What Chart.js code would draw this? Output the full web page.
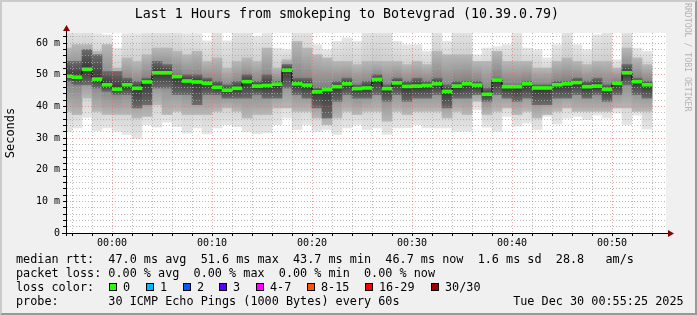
<!DOCTYPE html>
<html><head><meta charset="utf-8">
<script src="https://cdn.jsdelivr.net/npm/chart.js@4/dist/chart.umd.min.js"></script>
<style>
html,body{margin:0;padding:0;background:#f0f0f0;}
#wrap{position:relative;width:697px;height:315px;overflow:hidden;background:#f0f0f0;}
#frame{position:absolute;left:0;top:0;width:697px;height:315px;box-sizing:border-box;border-style:solid;border-width:2px;border-color:#cbcbcb #999 #999 #cbcbcb;pointer-events:none;}
canvas{position:absolute;left:0;top:0;}
.t{position:absolute;font-family:"DejaVu Sans Mono",monospace;white-space:pre;color:#000;font-size:11.8px;line-height:14px;}
.sw{position:absolute;width:8px;height:8px;box-sizing:border-box;border:1px solid #000;}
#title{position:absolute;left:0;top:6px;width:694px;text-align:center;font-family:"DejaVu Sans Mono",monospace;font-size:13.3px;line-height:16px;white-space:pre;}
#wm{position:absolute;left:683px;top:3px;writing-mode:vertical-rl;font-family:"DejaVu Sans Mono",monospace;font-size:8.2px;color:#b4b4b4;white-space:pre;line-height:10px;}
</style></head>
<body>
<div id="wrap">
<canvas id="c" width="697" height="315"></canvas>
<div id="title">Last 1 Hours from smokeping to Botevgrad (10.39.0.79)</div>
<div id="wm">RRDTOOL / TOBI OETIKER</div>
<div class="t" style="left:16px;top:252px">median rtt:  47.0 ms avg  51.6 ms max  43.7 ms min  46.7 ms now  1.6 ms sd  28.8   am/s</div>
<div class="t" style="left:16px;top:266px">packet loss: 0.00 % avg  0.00 % max  0.00 % min  0.00 % now</div>
<div class="t" style="left:16px;top:280px">loss color:</div>
<div id="lossrow"></div>
<div class="t" style="left:16px;top:294px">probe:       30 ICMP Echo Pings (1000 Bytes) every 60s                Tue Dec 30 00:55:25 2025</div>
<div id="frame"></div>
</div>
<script>
// ---- data ----
const times = ['23:55','23:56','23:57','23:58','23:59','00:00','00:01','00:02','00:03','00:04',
  '00:05','00:06','00:07','00:08','00:09','00:10','00:11','00:12','00:13','00:14',
  '00:15','00:16','00:17','00:18','00:19','00:20','00:21','00:22','00:23','00:24',
  '00:25','00:26','00:27','00:28','00:29','00:30','00:31','00:32','00:33','00:34',
  '00:35','00:36','00:37','00:38','00:39','00:40','00:41','00:42','00:43','00:44',
  '00:45','00:46','00:47','00:48','00:49','00:50','00:51','00:52','00:53'];
const median = [49.5,49.2,51.7,48.6,46.8,45.4,46.8,45.7,47.7,50.6,50.6,49.4,48.0,47.7,47.3,46.0,45.1,45.7,47.8,46.4,
  46.6,47.0,51.4,47.1,46.7,44.6,45.3,46.2,47.1,45.6,45.8,48.5,45.6,47.4,46.3,46.4,46.6,47.1,44.7,46.4,
  47.1,46.7,43.8,48.3,46.2,46.2,47.1,45.8,45.8,46.8,47.1,47.5,46.2,46.4,45.4,47.3,50.6,47.8,46.8];
const smokeMax = [65,65,65,63.0,62.6,58.4,63.0,63.0,65,65,65,65,63.0,63.0,60.7,65,60.7,65,65,62.2,
  63.5,58.4,57.9,65,65,59.5,57.9,60.5,61.6,60.5,65,65,65,60.5,59.5,59.5,57.4,65,60.5,65,
  65,56.3,58.4,58.9,59.5,63.5,58.4,57.9,55.3,59.5,65,59.5,57.9,62.6,65,54.7,65,58.4,57.4];
const smokeHi = [58.4,59.5,59.5,57.4,59.5,52.1,55.3,54.2,56.3,58.4,58.4,57.4,56.3,57.4,54.2,55.3,52.1,54.2,55.3,54.2,
  58.4,52.1,54.7,60.5,58.4,56.3,55.3,54.2,54.2,53.2,54.2,54.2,54.2,54.2,53.2,54.2,53.2,57.4,56.3,56.3,
  56.3,54.2,54.2,57.4,54.2,54.2,54.2,52.1,52.1,54.2,55.3,54.2,53.2,54.2,54.2,52.1,58.4,55.3,53.2];
const coreHi = [54.2,54.2,57.9,56.3,51.0,51.0,48.9,47.9,48.9,54.2,53.2,50.0,50.0,50.0,48.9,47.9,46.8,47.9,50.0,47.9,
  50.0,47.9,53.2,48.9,48.9,45.8,45.8,47.9,48.9,46.8,47.9,50.0,46.8,48.9,47.9,48.9,47.9,48.9,46.8,47.9,
  47.9,47.9,45.8,48.9,46.8,46.8,47.9,46.8,46.8,47.9,47.9,48.9,47.9,48.9,46.8,47.9,53.2,48.9,47.9];
const coreLo = [47.9,46.8,46.8,45.8,44.7,43.7,43.7,39.5,40.5,45.8,45.8,43.7,43.7,40.5,43.7,43.7,42.6,42.6,42.6,43.7,
  42.6,42.6,45.8,43.7,42.6,39.5,36.3,41.6,43.7,42.6,42.6,43.7,41.6,43.7,41.6,42.6,42.6,43.7,39.5,42.6,
  42.6,43.7,41.6,43.7,42.6,41.6,42.6,40.5,40.5,42.6,42.6,43.7,42.6,43.7,41.6,43.7,46.8,43.7,42.6];
const smokeLo = [38.4,37.4,42.6,38.4,37.4,37.4,37.4,36.3,36.8,40.5,37.4,38.4,37.4,37.4,37.4,38.4,39.5,38.4,36.3,37.4,
  37.4,39.5,39.5,38.4,38.4,36.3,34.2,36.3,38.4,37.4,38.4,38.4,35.3,38.4,37.4,38.4,38.4,38.4,36.3,38.4,
  37.4,41.6,37.4,38.4,39.5,37.4,38.4,36.3,37.4,38.4,39.5,38.4,38.4,38.4,38.4,39.5,39.5,38.4,38.4];
const smokeMin = [32.1,33.2,36.5,32.3,33.2,32.1,31.1,29.8,34.2,33.4,35.0,33.6,31.5,33.2,31.3,33.2,34.2,33.6,31.9,31.3,
  31.6,34.2,36.3,32.6,34.2,32.1,32.6,31.1,33.2,34.2,32.6,33.2,31.1,33.2,33.2,34.2,33.2,33.2,33.2,32.1,
  32.1,38.9,33.4,32.1,36.8,33.7,34.7,32.6,36.8,34.4,36.3,36.8,35.8,37.2,36.3,37.9,34.2,37.2,32.8];
// axes
const yGridValues = [0,2,4,6,8,10,12,14,16,18,20,22,24,26,28,30,32,34,36,38,40,42,44,46,48,50,52,54,56,58,60,62];
const yLabelValues = [0,10,20,30,40,50,60];
const yTickLabels = ['0','10 m','20 m','30 m','40 m','50 m','60 m'];
const xGridTimes = ['23:56','23:58','00:00','00:02','00:04','00:06','00:08','00:10','00:12','00:14','00:16','00:18',
  '00:20','00:22','00:24','00:26','00:28','00:30','00:32','00:34','00:36','00:38','00:40','00:42','00:44','00:46',
  '00:48','00:50','00:52','00:54'];
const xLabelTimes = ['00:00','00:10','00:20','00:30','00:40','00:50'];
const xTickLabels = ['00:00','00:10','00:20','00:30','00:40','00:50'];
const lossLabels = ['0','1','2','3','4-7','8-15','16-29','30/30'];
const lossColors = ['#26ff00','#00b8ff','#0059ff','#5e00ff','#ff00ff','#ff5500','#ff0000','#a00000'];
const lossSwatchX = [109,146,183,219,256,307,365,431];

// ---- helpers ----
const toMin = t => { const [h, m] = t.split(':').map(Number); return h === 23 ? m - 55 : m + 5; };
const xs = times.map(toMin);
const cx = xs.map(x => x + 0.5);
const band = (lo, hi) => cx.map((x, i) => ({x, y: [lo[i], hi[i]]}));
const last = times.length - 1;
const medLine = xs.map((x, i) => ({x, y: median[i]})).concat([{x: xs[last] + 1, y: median[last]}]);
const xGridVals = xGridTimes.map(toMin);
const xLabelVals = xLabelTimes.map(toMin);

function grad(lo, hi, edge, inner) {
  return c => {
    const ch = c.chart;
    if (c.type !== 'data' || !ch.chartArea) return inner;
    const i = c.dataIndex, y = ch.scales.y;
    const top = y.getPixelForValue(hi[i]), bot = y.getPixelForValue(lo[i]);
    if (!(bot > top)) return inner;
    const m = y.getPixelForValue(median[i]);
    let f = (m - top) / (bot - top); f = Math.min(0.95, Math.max(0.05, f));
    const g = ch.ctx.createLinearGradient(0, top, 0, bot);
    g.addColorStop(0, edge); g.addColorStop(f, inner); g.addColorStop(1, edge);
    return g;
  };
}

// legend swatches
const lr = document.getElementById('lossrow');
lossLabels.forEach((l, i) => {
  const s = document.createElement('div'); s.className = 'sw';
  s.style.left = lossSwatchX[i] + 'px'; s.style.top = '283px'; s.style.background = lossColors[i];
  lr.appendChild(s);
  const t = document.createElement('div'); t.className = 't';
  t.style.left = (lossSwatchX[i] + 14) + 'px'; t.style.top = '280px'; t.textContent = l;
  lr.appendChild(t);
});

const MONO = '"DejaVu Sans Mono", monospace';
const bgPlugin = {
  id: 'bg',
  beforeDraw(chart) {
    const {ctx, chartArea: a} = chart;
    ctx.save(); ctx.fillStyle = '#f0f0f0'; ctx.fillRect(0, 0, chart.width, chart.height);
    ctx.fillStyle = '#ffffff'; ctx.fillRect(a.left, a.top, a.right - a.left, a.bottom - a.top); ctx.restore();
  },
  afterDraw(chart) {
    const {ctx, chartArea: a} = chart;
    ctx.save();
    ctx.strokeStyle = '#000'; ctx.lineWidth = 1;
    ctx.beginPath(); ctx.moveTo(62, a.bottom + 0.5); ctx.lineTo(a.right + 3, a.bottom + 0.5);
    ctx.moveTo(a.left + 0.5, a.bottom + 3); ctx.lineTo(a.left + 0.5, a.top - 4); ctx.stroke();
    ctx.fillStyle = '#8b0000';
    ctx.beginPath(); ctx.moveTo(a.left - 3, a.top - 2); ctx.lineTo(a.left + 4, a.top - 2); ctx.lineTo(a.left + 0.5, a.top - 8); ctx.closePath(); ctx.fill();
    ctx.beginPath(); ctx.moveTo(a.right + 2, a.bottom - 3); ctx.lineTo(a.right + 2, a.bottom + 4); ctx.lineTo(a.right + 8, a.bottom + 0.5); ctx.closePath(); ctx.fill();
    ctx.restore();
  }
};

new Chart(document.getElementById('c'), {
  type: 'bar',
  data: {
    datasets: [
      {data: band(smokeMin, smokeMax), backgroundColor: grad(smokeMin, smokeMax, '#e6e6e6', '#bababa'), order: 5, clip: 0},
      {data: band(smokeLo, smokeHi), backgroundColor: grad(smokeLo, smokeHi, '#b8b8b8', '#7c7c7c'), order: 4, clip: 0},
      {data: band(coreLo, coreHi), backgroundColor: grad(coreLo, coreHi, '#6c6c6c', '#353535'), order: 3, clip: 0},
      {type: 'line', data: medLine, stepped: 'before', borderColor: '#000', borderWidth: 1, pointRadius: 0, order: 2, clip: 0},
      {data: cx.map((x, i) => ({x, y: [median[i] - 0.47, median[i] + 0.47]})), backgroundColor: '#26ff00', order: 1, clip: 0}
    ]
  },
  options: {
    responsive: false, maintainAspectRatio: false, animation: false, devicePixelRatio: 1,
    layout: {padding: {left: 0, right: 31, top: 33, bottom: 0}},
    datasets: {bar: {grouped: false, barPercentage: 1, categoryPercentage: 1, borderWidth: 0}},
    plugins: {legend: {display: false}, tooltip: {enabled: false}},
    scales: {
      x: {
        type: 'linear', min: 0.4, max: 60.4, offset: false,
        afterBuildTicks: s => { s.ticks = xGridVals.map(v => ({value: v})); },
        afterFit: s => { s.height = 82; },
        ticks: {autoSkip: false, maxRotation: 0, padding: 1, color: '#000', font: {family: MONO, size: 10},
          callback: v => { const k = xLabelVals.indexOf(v); return k >= 0 ? xTickLabels[k] : ''; }},
        grid: {z: 1, offset: false, tickLength: 3, tickColor: '#000',
          color: c => xLabelVals.includes(c.tick.value) ? 'rgba(225,110,110,0.65)' : 'rgba(170,170,170,0.8)'},
        border: {color: '#000', dash: [1, 2], z: 1}
      },
      y: {
        min: 0, max: 63.16,
        afterBuildTicks: s => { s.ticks = yGridValues.map(v => ({value: v})); },
        afterFit: s => { s.width = 66; },
        ticks: {autoSkip: false, padding: 3, color: '#000', font: {family: MONO, size: 10},
          callback: v => { const k = yLabelValues.indexOf(v); return k >= 0 ? yTickLabels[k] : ''; }},
        grid: {z: 1, tickLength: 3, tickColor: '#000',
          color: c => yLabelValues.includes(c.tick.value) ? 'rgba(225,110,110,0.65)' : 'rgba(170,170,170,0.8)'},
        border: {color: '#000', dash: [1, 2], z: 1},
        title: {display: true, text: 'Seconds', color: '#000', font: {family: MONO, size: 12}, padding: {top: 4, bottom: 0}}
      }
    }
  },
  plugins: [bgPlugin]
});
</script>
</body></html>
